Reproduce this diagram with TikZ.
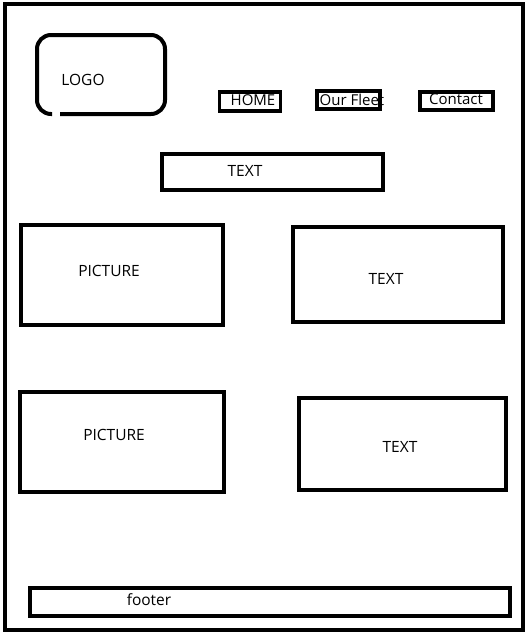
\documentclass[tikz,border=0pt]{standalone}
\usepackage{fontspec}
\setmainfont{Open Sans}
\begin{document}
\begin{tikzpicture}[x=1pt,y=-1pt,
  frame/.style={draw=black,line width=4pt},
  box/.style={draw=black,line width=4pt,inner sep=0pt,outer sep=0pt,anchor=north west},
  navbox/.style={draw=black,line width=3.5pt,inner sep=0pt,outer sep=0pt,anchor=north west},
  lbl/.style={font=\fontsize{15.5}{17}\selectfont,inner sep=0pt,text=black},
  navlbl/.style={font=\fontsize{15}{17}\selectfont,inner sep=0pt,text=black}]
\useasboundingbox (0,0) rectangle (528,637);
\fill[white] (0,0) rectangle (528,637);
% outer frame
\node[box,minimum width=518pt,minimum height=626pt] (page) at (5,4) {};
% logo
\draw[frame,rounded corners=14pt] (60,114) -- (165,114) -- (165,35) -- (37,35) -- (37,114) -- (52,114);
\node[lbl] (logo) at (83,80) {LOGO};
% navigation
\node[navbox,minimum width=61pt,minimum height=19pt] (homebox) at (219.5,92) {};
\node[navlbl] (home) at (253,100.5) {HOME};
\node[navbox,minimum width=63pt,minimum height=18pt] (fleetbox) at (317,91) {};
\node[navlbl] (fleet) at (352,99.5) {Our Fleet};
\node[navbox,minimum width=73pt,minimum height=18pt] (contactbox) at (420,92) {};
\node[navlbl] (contact) at (456,99.5) {Contact};
% top text
\node[box,minimum width=221pt,minimum height=36pt] (textbox) at (162,154) {};
\node[lbl] (text) at (245,170.5) {TEXT};
% row 1
\node[box,minimum width=202pt,minimum height=100pt] (pic1box) at (21,225) {};
\node[lbl] (pic1) at (109,270.5) {PICTURE};
\node[box,minimum width=210pt,minimum height=95pt] (text1box) at (293,227) {};
\node[lbl] (text1) at (386,278.5) {TEXT};
% row 2
\node[box,minimum width=204pt,minimum height=100pt] (pic2box) at (20,392) {};
\node[lbl] (pic2) at (114,434.5) {PICTURE};
\node[box,minimum width=207pt,minimum height=92pt] (text2box) at (299,398) {};
\node[lbl] (text2) at (400,446.5) {TEXT};
% footer
\node[box,minimum width=480pt,minimum height=28pt] (footbox) at (30,588) {};
\node[lbl] (footer) at (149,600) {footer};
\end{tikzpicture}
\end{document}
